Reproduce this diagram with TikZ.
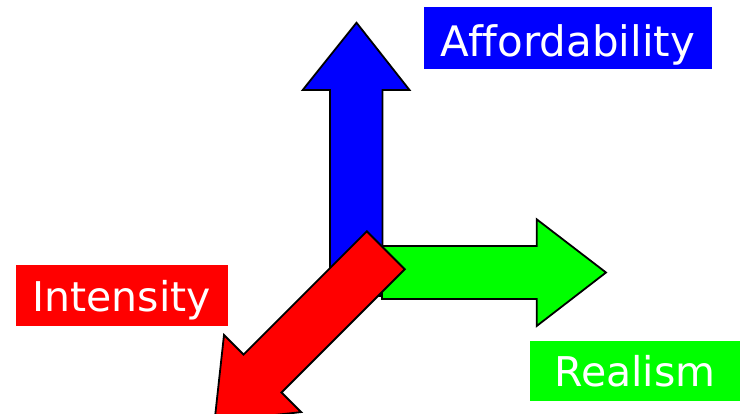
\documentclass[tikz,border=0pt]{standalone}
\usepackage{fontspec}
\setmainfont[Ligatures=NoCommon]{DejaVu Sans}
\definecolor{pblue}{RGB}{0,0,255}
\definecolor{pgreen}{RGB}{0,255,0}
\definecolor{pred}{RGB}{255,0,0}
\tikzset{
  arrowshape/.style={draw=black, line width=1.8pt, line join=miter},
  labelbox/.style={anchor=base, inner sep=0pt, text=white, font=\fontsize{41}{41}\selectfont}
}
\begin{document}
\begin{tikzpicture}[x=1pt,y=-1pt]
\useasboundingbox (0,0) rectangle (740,413);
\clip (0,0) rectangle (740,413);
% blue arrow (up)
\draw[arrowshape, fill=pblue] (330,296) -- (330,90) -- (302.7,90) -- (356.5,22.7) -- (409.5,90) -- (382.5,90) -- (382.5,296) -- cycle;
% green arrow (right)
\draw[arrowshape, fill=pgreen] (382,246) -- (536.7,246) -- (536.7,219.3) -- (606,272.5) -- (536.7,326) -- (536.7,299) -- (382,299) -- cycle;
% red arrow (down-left)
\draw[arrowshape, fill=pred] (366.85,231.35) -- (404.75,269.25) -- (281.5,392.5) -- (301.1,412.1) -- (214.5,421.6) -- (224,335) -- (243.6,354.6) -- cycle;
% labels
\node[labelbox, fill=pblue, text height=48.7pt, text depth=13pt, minimum width=287.7pt, font=\fontsize{42}{42}\selectfont] (afford) at (568,56) {Af{}fordability};
\node[labelbox, fill=pred, text height=46pt, text depth=14.7pt, minimum width=211.7pt] (intens) at (121.8,311) {Intensity};
\node[labelbox, fill=pgreen, text height=45.7pt, text depth=14.3pt, minimum width=210pt] (real) at (635,386.7) {Realism};
\end{tikzpicture}
\end{document}
